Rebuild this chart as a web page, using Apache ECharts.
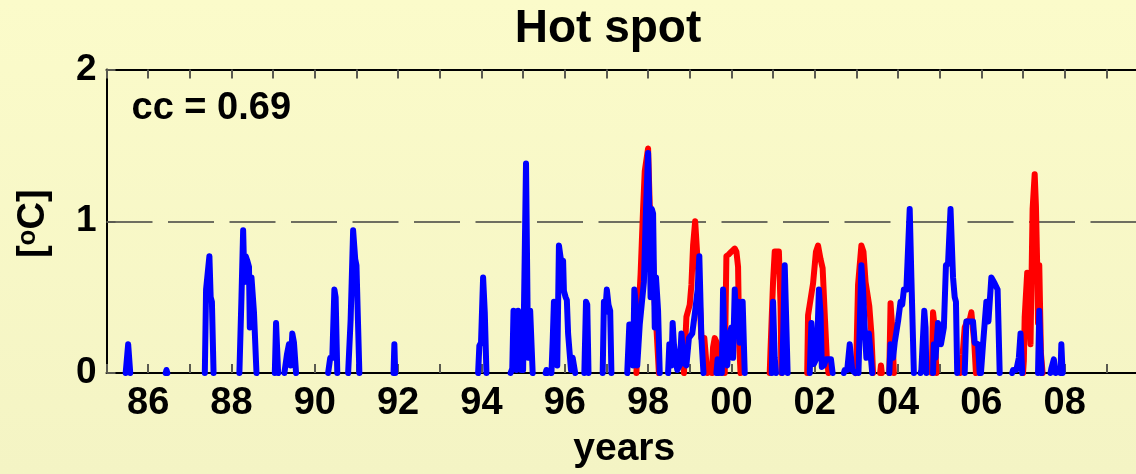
<!DOCTYPE html>
<html>
<head>
<meta charset="utf-8">
<script src="https://cdn.jsdelivr.net/npm/echarts@6/dist/echarts.min.js"></script>
<style>html,body{margin:0;padding:0;overflow:hidden;background:#f8f8c8;width:1136px;height:474px;}#c{width:1170px;height:474px;}</style>
</head>
<body>
<div id="c"></div>
<script>
// ---- data (decimal years, °C); null separates individual events ----
const titleText = 'Hot spot';
const ccText = 'cc = 0.69';
const xName = 'years';
const xMin = 1985, xMax = 2010;
const yTicks = [0, 1, 2];

const blueX = [
1985.46,1985.52,1985.57,null,
1986.42,1986.44,1986.46,null,
1987.36,1987.39,1987.43,1987.47,1987.5,1987.53,1987.57,null,
1988.19,1988.24,1988.28,1988.31,1988.34,1988.38,1988.42,1988.44,1988.48,1988.51,1988.54,1988.57,1988.6,null,
1989.04,1989.07,1989.12,null,
1989.27,1989.33,1989.38,1989.42,1989.46,1989.5,1989.55,null,
1990.32,1990.37,1990.42,1990.47,1990.5,1990.54,null,
1990.8,1990.86,1990.92,1990.97,1991.0,1991.07,null,
1991.89,1991.91,1991.93,null,
1993.92,1993.95,1993.99,1994.04,1994.08,1994.12,null,
1994.7,1994.74,1994.77,1994.8,1994.84,1994.88,1994.91,1994.95,1995.0,1995.07,1995.12,1995.17,1995.2,1995.23,null,
1995.54,1995.56,1995.58,null,
1995.68,1995.71,1995.74,1995.78,1995.82,1995.86,1995.9,1995.93,1995.96,1995.98,1996.02,1996.05,1996.08,1996.12,1996.15,1996.19,1996.22,1996.25,null,
1996.47,1996.51,1996.54,1996.57,null,
1996.91,1996.94,1996.97,1997.01,1997.05,1997.09,1997.12,null,
1997.5,1997.55,1997.6,1997.64,1997.67,1997.7,1997.74,1997.8,1997.84,1997.9,1997.95,1998.0,1998.03,1998.06,1998.09,1998.12,1998.16,1998.19,1998.22,1998.24,1998.28,null,
1998.48,1998.51,1998.56,1998.59,1998.62,1998.66,1998.7,1998.76,1998.8,1998.85,1998.92,1998.98,1999.06,1999.13,1999.19,1999.23,1999.28,1999.33,null,
1999.64,1999.67,1999.7,null,
1999.77,1999.8,1999.84,1999.9,1999.95,2000.0,2000.04,2000.08,2000.12,2000.16,2000.2,2000.24,2000.27,2000.32,null,
2000.97,2001.0,2001.04,2001.07,null,
2001.22,2001.25,2001.28,2001.35,null,
2001.88,2001.92,2001.98,2002.05,2002.1,2002.14,2002.17,2002.22,2002.27,2002.39,2002.43,null,
2002.7,2002.72,2002.78,2002.84,2002.9,2002.94,2002.97,null,
2003.05,2003.12,2003.16,2003.2,2003.24,2003.3,2003.34,2003.38,null,
2003.79,2003.82,2003.88,2003.92,2004.0,2004.06,2004.1,2004.14,2004.2,2004.28,2004.32,2004.35,2004.38,null,
2004.54,2004.56,2004.6,2004.63,2004.66,2004.68,null,
2004.84,2004.86,2004.9,2004.96,2005.0,2005.03,2005.1,2005.15,2005.2,2005.26,2005.32,2005.36,2005.39,2005.42,null,
2005.6,2005.64,2005.7,2005.8,2005.84,2005.87,2005.92,2005.96,null,
2005.99,2006.04,2006.08,2006.12,2006.17,2006.24,2006.28,2006.32,2006.39,2006.44,null,
2006.74,2006.76,2006.84,2006.9,2006.94,2006.98,null,
2007.36,2007.39,2007.42,2007.45,null,
2007.66,2007.68,2007.74,2007.78,null,
2007.9,2007.92,2007.95
];
const blueY = [
0,0.19,0,null,
0,0.02,0,null,
0,0.55,0.55,0.77,0.5,0.47,0,null,
0,0.5,0.94,0.6,0.77,0.74,0.7,0.3,0.63,0.62,0.4,0.4,0,null,
0,0.33,0,null,
0,0.12,0.19,0.05,0.26,0.2,0,null,
0,0.1,0.1,0.55,0.5,0,null,
0,0.35,0.94,0.75,0.71,0,null,
0,0.19,0,null,
0,0.18,0.2,0.63,0.4,0,null,
0,0.03,0.41,0.41,0.02,0.41,0.41,0.02,0.02,1.38,0.1,0.41,0.4,0,null,
0,0.02,0,null,
0,0.21,0.47,0.47,0.05,0.84,0.83,0.7,0.74,0.54,0.5,0.48,0.26,0.25,0.02,0.1,0.1,0,null,
0,0.47,0.45,0,null,
0,0.47,0.4,0.55,0.45,0.41,0,null,
0,0.32,0.32,0.05,0.55,0.47,0.05,0.32,0.32,0.6,1.08,1.45,1.08,0.5,1.08,1.05,0.3,0.63,0.5,0.41,0,null,
0,0.19,0.05,0.33,0.19,0.1,0.02,0.05,0.26,0.07,0.05,0.23,0.26,0.41,0.55,0.77,0.23,0,null,
0,0.09,0,null,
0,0.55,0.1,0.05,0.26,0.3,0.1,0.55,0.3,0.47,0.2,0.3,0.47,0,null,
0,0.47,0.1,0,null,
0,0.33,0.71,0,null,
0,0.33,0.06,0.1,0.55,0.39,0.04,0.05,0.09,0.09,0,null,
0,0.02,0.02,0.19,0.02,0.02,0,null,
0,0.71,0.55,0.3,0.1,0.26,0.26,0,null,
0,0.19,0.1,0.2,0.34,0.47,0.45,0.55,0.55,1.08,0.63,0.63,0,null,
0,0.02,0.02,0.41,0.3,0,null,
0,0.19,0.1,0.33,0.33,0.19,0.3,0.71,0.72,1.08,0.63,0.5,0.47,0,null,
0,0.34,0.34,0.34,0.2,0.19,0.19,0,null,
0,0.19,0.2,0.47,0.34,0.63,0.62,0.59,0.55,0,null,
0,0.02,0.02,0.1,0.26,0,null,
0,0.41,0.15,0,null,
0,0.03,0.09,0,null,
0,0.19,0
];

const redX = [
1997.72,1997.76,1997.82,1997.88,1997.92,1998.0,1998.04,1998.1,1998.15,1998.2,1998.26,null,
1998.86,1998.92,1999.0,1999.04,1999.08,1999.13,1999.17,1999.22,1999.28,1999.35,1999.42,null,
1999.53,1999.56,1999.6,1999.65,1999.7,1999.76,null,
1999.84,1999.88,1999.93,2000.0,2000.08,2000.12,2000.16,2000.19,2000.22,null,
2000.92,2000.94,2001.0,2001.04,2001.14,2001.18,2001.2,null,
2001.82,2001.84,2001.96,2002.03,2002.08,2002.14,2002.19,2002.24,2002.29,2002.33,null,
2002.98,2003.0,2003.04,2003.12,2003.17,2003.22,2003.31,2003.36,2003.4,null,
2003.57,2003.59,2003.61,null,
2003.79,2003.82,2003.86,2003.9,null,
2004.81,2004.84,2004.88,2004.92,null,
2005.5,2005.55,2005.6,2005.66,2005.72,2005.76,2005.79,2005.83,2005.87,null,
2007.0,2007.02,2007.04,2007.1,2007.13,2007.18,2007.23,2007.28,2007.31,2007.34,2007.36,2007.39,2007.43,2007.47
];
const redY = [
0,0.34,0.65,1.08,1.33,1.48,1.1,0.9,0.5,0.3,0,null,
0,0.37,0.45,0.58,0.84,1.0,1.0,0.6,0.23,0.23,0,null,
0,0.17,0.23,0.2,0.05,0,null,
0,0.77,0.78,0.8,0.82,0.8,0.7,0.17,0,null,
0,0.16,0.6,0.8,0.8,0.44,0,null,
0,0.38,0.59,0.8,0.84,0.75,0.69,0.39,0.1,0,null,
0,0.1,0.58,0.84,0.8,0.6,0.44,0.26,0,null,
0,0.05,0,null,
0,0.46,0.3,0,null,
0,0.4,0.3,0,null,
0,0.12,0.3,0.34,0.35,0.4,0.4,0.2,0,null,
0,0.08,0.37,0.66,0.65,0.19,1.08,1.31,1.1,0.71,0.33,0.71,0.13,0
];

function pairs(xs, ys) {
  return xs.map((x, i) => (x === null || ys[i] === null) ? ['-', '-'] : [x, ys[i]]);
}

const FONT = "'Liberation Sans', Arial, Helvetica, sans-serif";
const chart = echarts.init(document.getElementById('c'), null, {renderer: 'canvas'});

const tickStyle = {show: true, inside: true, length: 9, lineStyle: {color: '#5a5a50', width: 2}};
const axisLineStyle = {show: true, lineStyle: {color: '#000', width: 2}};

chart.setOption({
  animation: false,
  backgroundColor: {
    type: 'linear', x: 0, y: 0, x2: 0, y2: 1,
    colorStops: [{offset: 0, color: '#fbfbca'}, {offset: 1, color: '#f4f4c4'}]
  },
  grid: {left: 106.5, top: 69.5, width: 1041.5, height: 306.5, containLabel: false},
  xAxis: [{
    type: 'value', min: xMin, max: xMax, interval: 1, position: 'bottom',
    axisLine: axisLineStyle, axisTick: tickStyle, splitLine: {show: false},
    axisLabel: {
      margin: 12, color: '#000', fontSize: 38, fontWeight: 'bold', fontFamily: FONT,
      formatter: v => { const y = Math.round(v); return (y % 2 === 0 && y < xMax) ? String(y % 100).padStart(2, '0') : ''; }
    },
    name: xName, nameLocation: 'middle', nameGap: 57,
    nameTextStyle: {color: '#000', fontSize: 39, fontWeight: 'bold', fontFamily: FONT, padding: [0, 6, 0, 0]}
  }, {
    type: 'value', min: xMin, max: xMax, interval: 1, position: 'top',
    axisLine: axisLineStyle, axisTick: tickStyle, axisLabel: {show: false}, splitLine: {show: false}
  }],
  yAxis: [{
    type: 'value', min: yTicks[0], max: yTicks[yTicks.length - 1], interval: 1,
    axisLine: axisLineStyle, axisTick: tickStyle,
    axisLabel: {margin: 10, color: '#000', fontSize: 37, fontWeight: 'bold', fontFamily: FONT},
    splitLine: {show: true, lineStyle: {color: '#6e6e60', width: 2, type: [46, 15.5]}},
    name: '[{s|o}C]', nameLocation: 'middle', nameGap: 54,
    nameTextStyle: {
      color: '#000', fontSize: 38, fontWeight: 'bold', fontFamily: FONT, lineHeight: 38,
      padding: [0, 5, 0, 0],
      rich: {s: {fontSize: 26, fontWeight: 'bold', fontFamily: FONT, color: '#000', lineHeight: 4, verticalAlign: 'top'}}
    }
  }],
  graphic: [
    {type: 'text', x: 608, y: 29, z: 100, style: {text: titleText, fill: '#000', font: 'bold 46px ' + FONT, align: 'center', verticalAlign: 'middle'}},
    {type: 'text', x: 131.5, y: 109, z: 100, style: {text: ccText, fill: '#000', font: 'bold 38px ' + FONT, align: 'left', verticalAlign: 'middle'}}
  ],
  series: [
    {type: 'line', name: 'red', data: pairs(redX, redY), showSymbol: false, connectNulls: false, clip: false, z: 3,
     lineStyle: {color: '#ff0000', width: 6, cap: 'round', join: 'round'}},
    {type: 'line', name: 'blue', data: pairs(blueX, blueY), showSymbol: false, connectNulls: false, clip: false, z: 4,
     lineStyle: {color: '#0000ff', width: 6, cap: 'round', join: 'round'}}
  ]
});
</script>
</body>
</html>
